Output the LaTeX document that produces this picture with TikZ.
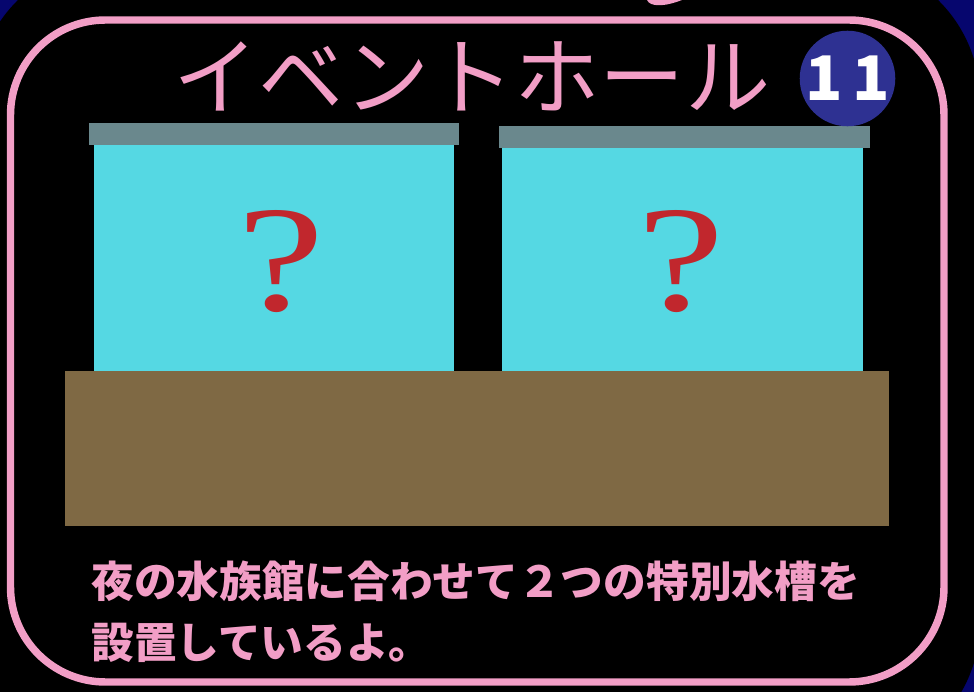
\documentclass[tikz,border=0pt]{standalone}
\usepackage{graphicx}
\usepackage{fontspec}
\setmainfont{Liberation Serif}
\newfontfamily\jpfont{Noto Sans CJK JP}
\definecolor{navybg}{HTML}{06066E}
\definecolor{framepink}{HTML}{F29EC6}
\definecolor{badgeblue}{HTML}{2E3192}
\definecolor{lidgray}{HTML}{6A888D}
\definecolor{tankwater}{HTML}{55D8E3}
\definecolor{standbrown}{HTML}{7F6944}
\definecolor{qred}{HTML}{C1272D}
\tikzset{
  titletext/.style={text=framepink, inner sep=0pt, font=\jpfont\fontsize{48.5}{50}\selectfont},
  badge/.style={circle, fill=badgeblue, minimum size=1.72cm, inner sep=0pt, text=white,
    font=\jpfont\bfseries\fontsize{35}{36}\selectfont},
  qmark/.style={text=qred, inner sep=0pt, font=\fontsize{86}{86}\selectfont},
  bodytext/.style={text=framepink, inner sep=0pt, align=left,
    font=\jpfont\bfseries\fontsize{24.3}{34.6}\selectfont}
}
\begin{document}
\begin{tikzpicture}[x=0.02cm,y=-0.02cm]
  \useasboundingbox (0,0) rectangle (974,692);
  % 背景
  \fill[navybg] (0,0) rectangle (974,692);
  \fill[black, rounded corners=2.8cm] (-24,-40) rectangle (980,762);
  \fill[framepink] (647,0) .. controls (650,7) and (664,7) .. (682,0) -- cycle;
  % 枠
  \draw[framepink, line width=4.25pt, rounded corners=1.9cm] (10.5,20) rectangle (944,682);

  % 台
  \fill[standbrown] (65,371) rectangle (889,526);

  % 水槽
  \foreach \lx/\rx/\wl/\wr/\ty/\qx/\n in {89/459/94/454/123/281/1, 499/870/502/863/126/681/2} {
    \fill[tankwater] (\wl,\ty+22) rectangle (\wr,371);
    \fill[lidgray] (\lx,\ty) rectangle (\rx,\ty+22);
    \node[qmark] (q\n) at (\qx,262) {\scalebox{1.3}[1]{?}};
  }

  \node[titletext] (title) at (472,76) {イベントホール};
  \node[badge] (num) at (847.5,78.5) {1\hspace{0.16em}1};

  \node[bodytext, anchor=west] (desc) at (91,612)
    {夜の水族館に合わせて２つの特別水槽を\\設置しているよ。};
\end{tikzpicture}
\end{document}
